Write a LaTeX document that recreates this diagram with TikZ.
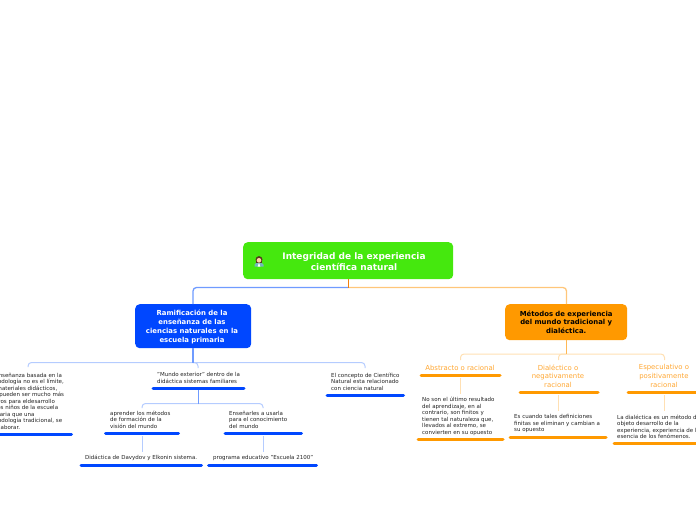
\documentclass[tikz,border=0pt]{standalone}
\usepackage{fontspec}
\setmainfont{DejaVu Sans}
\definecolor{rootgreen}{HTML}{45E80E}
\definecolor{mainblue}{HTML}{0047FF}
\definecolor{mainorange}{HTML}{FF9900}
\definecolor{linkblue}{HTML}{6F9BFF}
\definecolor{paleblue}{HTML}{B5CCFF}
\definecolor{linkorange}{HTML}{FFC67A}
\definecolor{paleorange}{HTML}{FFE0B3}
\definecolor{smalltext}{HTML}{222222}
\definecolor{labelorange}{HTML}{FFA733}
\tikzset{
  x=1pt,y=-1pt,
  boxnode/.style={rounded corners=4.5pt,inner sep=0pt,align=center},
  leaf/.style={inner sep=0pt,anchor=west,align=left,text=smalltext,font=\fontsize{5.5}{6.5}\selectfont},
  orangelabel/.style={inner sep=0pt,align=center,text=labelorange,font=\fontsize{6.9}{8.6}\selectfont},
  bluebar/.style={draw=mainblue,line width=3pt,line cap=round},
  orangebar/.style={draw=mainorange,line width=3pt,line cap=round},
  bluelink/.style={draw=linkblue,line width=1.3pt,rounded corners=3.5pt},
  orangelink/.style={draw=linkorange,line width=1.3pt,rounded corners=3.5pt},
  palebluelink/.style={draw=paleblue,line width=1pt,rounded corners=3.5pt},
  paleorangelink/.style={draw=paleorange,line width=1pt,rounded corners=3.5pt},
}
\begin{document}
\begin{tikzpicture}
\useasboundingbox (0,0) rectangle (696,520);
\clip (0,0) rectangle (696,520);
% main nodes
\node[boxnode,fill=rootgreen,minimum width=210pt,minimum height=37pt,anchor=north west] (root) at (243,242) {};
\node[inner sep=0pt,align=center,text=white,font=\fontsize{9}{11}\bfseries\selectfont] (roottext) at (354,261.5) {Integridad de la experiencia\\científica natural};
\node[boxnode,fill=mainblue,minimum width=116pt,minimum height=44pt,text=white,font=\fontsize{6.9}{8.8}\bfseries\selectfont,anchor=north west,text width=116pt] (blue) at (135,304) {};
\node[inner sep=0pt,align=center,text=white,font=\fontsize{6.9}{8.8}\bfseries\selectfont] (bluetext) at (192,327) {Ramificación de la\\enseñanza de las\\ciencias naturales en la\\escuela primaria};
\node[boxnode,fill=mainorange,minimum width=122pt,minimum height=36pt,text=black,font=\fontsize{6.9}{8.8}\bfseries\selectfont,anchor=north west,text width=122pt] (orange) at (505,304) {Métodos de experiencia\\del mundo tradicional y\\dialéctica.};
% icon
\fill[teal!55] (254.5,266.5) -- (254.5,264.5) .. controls (255,263) and (257,262.5) .. (259,262.5) .. controls (261,262.5) and (263,263) .. (263.5,264.5) -- (263.5,266.5) -- cycle;
\fill[white] (257.7,266.5) -- (259,262.5) -- (260.3,266.5) -- cycle;
\fill[black!55!brown] (259,259.6) circle (3.5pt);
\fill[black!55!brown] (255.6,259.6) rectangle (262.4,263);
\fill[orange!35!white] (259,260.3) circle (2.3pt);
% coordinates
\coordinate (rootb) at (348.5,279);
\coordinate (bluet) at (193,304);
\coordinate (oranget) at (566.5,304);
\coordinate (blueb) at (193,348);
\coordinate (orangeb) at (566.5,340);
% hub coordinates
\coordinate (h1) at (348.5,287.5);
\draw[orangelink] (h1) -| (oranget);
\draw[bluelink] (h1) -| (bluet);
\draw[draw=orange!80!brown,line width=1.2pt] (rootb) -- (h1);
% leaf texts
\node[leaf] (a1) at (-13,401) {La enseñanza basada en la\\metodología no es el límite,\\los materiales didácticos,\\que pueden ser mucho más\\activos para eldesarrollo\\de los niños de la escuela\\primaria que una\\metodología tradicional, se\\de elaborar.};
\node[leaf] (a2) at (157,378) {"Mundo exterior" dentro de la\\didáctica sistemas familiares};
\node[leaf] (a3) at (331,381.5) {El concepto de Científico\\Natural esta relacionado\\con ciencia natural};
\node[leaf] (b1) at (110,419.5) {aprender los métodos\\de formación de la\\visión del mundo};
\node[leaf] (b2) at (229,419.5) {Enseñarles a usarla\\para el conocimiento\\del mundo};
\node[leaf] (c1) at (85,458) {Didáctica de Davydov y Elkonin sistema.};
\node[leaf] (c2) at (213,458) {programa educativo "Escuela 2100"};
\node[orangelabel] (d1) at (460,367.5) {Abstracto o racional};
\node[orangelabel] (d2) at (558,376) {Dialéctico o\\negativamente\\racional};
\node[orangelabel] (d3) at (664,376) {Especulativo o\\positivamente\\racional};
\node[leaf] (e1) at (422,416.5) {No son el último resultado\\del aprendizaje, en al\\contrario, son finitos y\\tienen tal naturaleza que,\\llevados al extremo, se\\convierten en su opuesto};
\node[leaf] (e2) at (514,423.5) {Es cuando tales definiciones\\finitas se eliminan y cambian a\\su opuesto};
\node[leaf] (e3) at (617,427) {La dialéctica es un método de\\objeto desarrollo de la\\experiencia, experiencia de la\\esencia de los fenómenos.};
% bars
\coordinate (a1l) at (-30,434); \coordinate (a1r) at (71.5,434);
\coordinate (a2l) at (153,388.5); \coordinate (a2r) at (244,388.5);
\coordinate (a3l) at (327,395); \coordinate (a3r) at (403.5,395);
\coordinate (b1l) at (105.5,433.5); \coordinate (b1r) at (178.5,433.5);
\coordinate (b2l) at (225,433.5); \coordinate (b2r) at (301.5,433.5);
\coordinate (c1l) at (81,465.5); \coordinate (c1r) at (201.5,465.5);
\coordinate (c2l) at (208.5,465.5); \coordinate (c2r) at (316.5,465.5);
\coordinate (d1l) at (421,375); \coordinate (d1r) at (500,375);
\coordinate (d2l) at (520,392); \coordinate (d2r) at (598,392);
\coordinate (d3l) at (628,392); \coordinate (d3r) at (710,392);
\coordinate (e1l) at (418,439.5); \coordinate (e1r) at (503,439.5);
\coordinate (e2l) at (510,437); \coordinate (e2r) at (606,437);
\coordinate (e3l) at (614,443.5); \coordinate (e3r) at (710,443.5);
\foreach \n in {a1,a2,a3,b1,b2,c1,c2} \draw[bluebar] (\n l) -- (\n r);
\foreach \n in {d1,d2,d3,e1,e2,e3} \draw[orangebar] (\n l) -- (\n r);
% blue branches
\coordinate (h2) at (193,362.5);
\coordinate (t1) at (28,367); \coordinate (t2) at (198,368); \coordinate (t3) at (365,368);
\draw[palebluelink] (h2) -| (t1);
\draw[palebluelink] (h2) -| (t2);
\draw[palebluelink] (h2) -| (t3);
\draw[draw=linkblue,line width=1.2pt] (blueb) -- (h2);
\coordinate (h3) at (198,403.5);
\coordinate (a2b) at (198,390);
\coordinate (t4) at (142,408); \coordinate (t5) at (263,408);
\draw[palebluelink] (h3) -| (t4);
\draw[palebluelink] (h3) -| (t5);
\draw[draw=linkblue,line width=1pt] (a2b) -- (h3);
\coordinate (b1b) at (142,436); \coordinate (c1t) at (142,452);
\coordinate (b2b) at (263,436); \coordinate (c2t) at (263,452);
\draw[palebluelink] (b1b) -- (c1t);
\draw[palebluelink] (b2b) -- (c2t);
% orange branches
\coordinate (h4) at (566.5,354);
\coordinate (u1) at (460.5,360); \coordinate (u2) at (558.5,360); \coordinate (u3) at (664.5,360);
\draw[paleorangelink] (h4) -| (u1);
\draw[paleorangelink] (h4) -| (u2);
\draw[paleorangelink] (h4) -| (u3);
\draw[draw=linkorange!70!mainorange,line width=1.2pt] (orangeb) -- (h4);
\coordinate (d1b) at (460.5,378); \coordinate (e1t) at (460.5,394);
\coordinate (d2b) at (558.5,395); \coordinate (e2t) at (558.5,411);
\coordinate (d3b) at (664.5,395); \coordinate (e3t) at (664.5,411);
\draw[paleorangelink] (d1b) -- (e1t);
\draw[paleorangelink] (d2b) -- (e2t);
\draw[paleorangelink] (d3b) -- (e3t);
\end{tikzpicture}
\end{document}
